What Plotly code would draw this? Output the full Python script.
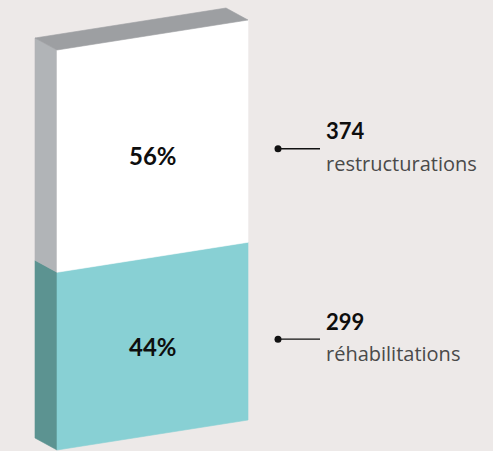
import plotly.graph_objects as go

# Data
categories = ["réhabilitations", "restructurations"]
counts = [299, 374]

# Colours: front face, side face per segment
front_colors = ["#88D0D4", "#FFFFFF"]
side_colors = ["#5C9391", "#B1B4B7"]
top_color = "#9D9FA2"
bg = "#EDE9E8"

total = sum(counts)
shares = [100.0 * c / total for c in counts]

# Bar geometry (x in layout units, y in percent of total)
x0, x1 = 57, 248          # front face left / right
skew = 7.5                # rise of the front face from left to right
dx, dy = -22, 3           # depth offset of the back edges

fig = go.Figure()

def poly(xs, ys, color):
    fig.add_trace(go.Scatter(
        x=xs + [xs[0]], y=ys + [ys[0]], mode="lines", fill="toself",
        fillcolor=color, line=dict(width=0.6, color=color),
        hoverinfo="skip", showlegend=False))

def rise(x):
    return (x - x0) / (x1 - x0) * skew

base = 0.0
mids = []
for share, fc, sc in zip(shares, front_colors, side_colors):
    top = base + share
    # side face
    poly([x0, x0 + dx, x0 + dx, x0], [base, base + dy, top + dy, top], sc)
    # front face
    poly([x0, x1, x1, x0], [base, base + skew, top + skew, top], fc)
    mids.append((base + top) / 2)
    base = top

# top face
poly([x0, x1, x1 + dx, x0 + dx], [base, base + skew, base + skew + dy, base + dy], top_color)

xc = (x0 + x1) / 2
x_dot, x_line_end, x_text = 278, 320, 324

annotations = []
n = len(counts)
for i, (cat, cnt, share, mid) in enumerate(zip(categories, counts, shares, mids)):
    # the upper label sits a little below its segment's centre
    nudge = -2.4 if i == n - 1 else 0.0
    ylab = mid + rise(xc) + nudge
    annotations.append(dict(
        x=xc, y=ylab, text=f"<b>{round(share)}%</b>", showarrow=False,
        font=dict(family="Lato", size=24, color="#0E0E0E"),
        xanchor="center", yanchor="middle"))
    ycall = ylab + 1.75
    fig.add_trace(go.Scatter(
        x=[x_dot, x_line_end], y=[ycall, ycall], mode="lines",
        line=dict(color="#111111", width=1.3), hoverinfo="skip", showlegend=False))
    fig.add_trace(go.Scatter(
        x=[x_dot], y=[ycall], mode="markers",
        marker=dict(color="#111111", size=7), hoverinfo="skip", showlegend=False))
    annotations.append(dict(
        x=x_text, y=ycall + 0.6, text=f"<b>{cnt}</b>", showarrow=False,
        font=dict(family="Lato", size=22, color="#0E0E0E"),
        xanchor="left", yanchor="bottom"))
    annotations.append(dict(
        x=x_text, y=ycall + 0.2, text=cat, showarrow=False,
        font=dict(family="Open Sans", size=20, color="#4A4A4A"),
        xanchor="left", yanchor="top"))

fig.update_layout(
    width=493, height=451,
    margin=dict(l=0, r=0, t=0, b=0),
    paper_bgcolor=bg, plot_bgcolor=bg,
    xaxis=dict(range=[0, 493], visible=False, fixedrange=True),
    yaxis=dict(range=[-0.25, 112.5], visible=False, fixedrange=True),
    annotations=annotations,
    showlegend=False,
)

fig.write_html("out.html", config={"displayModeBar": False})
